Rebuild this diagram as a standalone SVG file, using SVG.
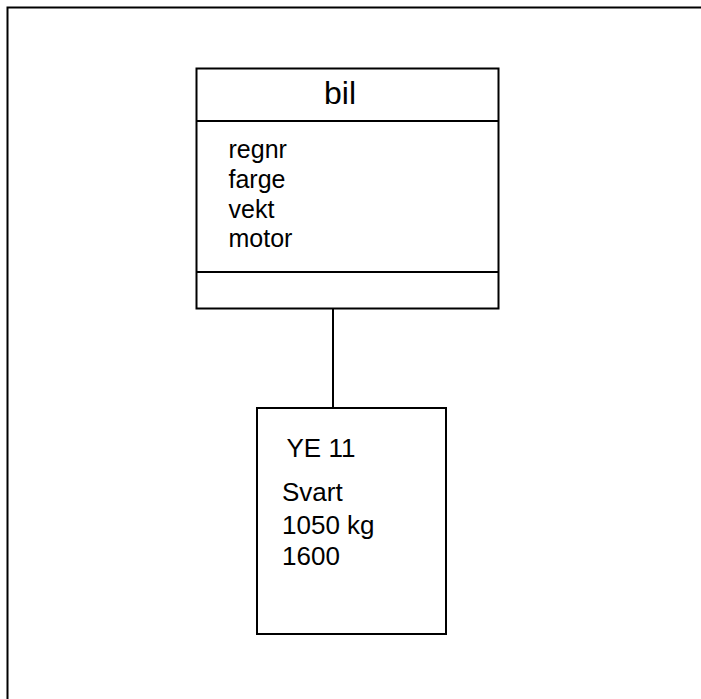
<svg xmlns="http://www.w3.org/2000/svg" width="701" height="699" viewBox="0 0 701 699">
<style>
.box{fill:#fff;stroke:#000;stroke-width:2}
.ln{stroke:#000;stroke-width:2;fill:none}
.t{font-family:"Liberation Sans",Arial,sans-serif;fill:#000}
</style>
<rect x="0" y="0" width="701" height="699" fill="#fff"/>
<rect class="ln" x="7.5" y="7.5" width="720" height="720"/>
<g id="connectors">
<line class="ln" x1="333" y1="309" x2="333" y2="408"/>
</g>
<g id="bil">
<rect class="box" x="196.5" y="68.5" width="302" height="240"/>
<line class="ln" x1="196.5" y1="121" x2="498.5" y2="121"/>
<line class="ln" x1="196.5" y1="272" x2="498.5" y2="272"/>
<text class="t" x="324" y="103.5" font-size="32">bil</text>
<text class="t" x="228.5" y="157.5" font-size="25">regnr</text>
<text class="t" x="228.5" y="187.5" font-size="25">farge</text>
<text class="t" x="228.5" y="217.5" font-size="25">vekt</text>
<text class="t" x="228.5" y="246.5" font-size="25">motor</text>
</g>
<g id="instans">
<rect class="box" x="257" y="408" width="189" height="226"/>
<text class="t" x="286.5" y="456.5" font-size="26">YE 11</text>
<text class="t" x="282" y="501" font-size="26">Svart</text>
<text class="t" x="282" y="533.5" font-size="26">1050 kg</text>
<text class="t" x="282" y="565" font-size="26">1600</text>
</g>
</svg>
